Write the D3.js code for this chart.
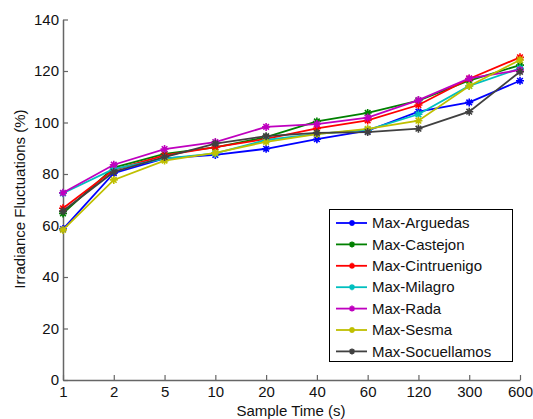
<!DOCTYPE html>
<html><head><meta charset="utf-8">
<script src="https://cdn.jsdelivr.net/npm/d3@7"></script>
<style>body{margin:0;background:#fff}svg{display:block}text{font-family:"Liberation Sans",Arial,sans-serif}</style>
</head><body>
<script>
const categories = ["1","2","5","10","20","40","60","120","300","600"];
const yTicks = [0,20,40,60,80,100,120,140];
const seriesNames = ["Max-Arguedas","Max-Castejon","Max-Cintruenigo","Max-Milagro","Max-Rada","Max-Sesma","Max-Socuellamos"];
const seriesColors = ["#0000ff","#008000","#ff0000","#00bfbf","#bf00bf","#bfbf00","#404040"];
const arguedas     = [58.6, 80.3, 86.1, 87.4, 89.8, 93.5, 96.8, 104.2, 107.8, 116.2];
const castejon     = [64.7, 82.5, 87.8, 90.3, 94.3, 100.4, 103.7, 108.5, 116.3, 122.3];
const cintruenigo  = [66.7, 81.6, 87.2, 90.4, 93.6, 97.7, 100.8, 106.8, 117.0, 125.3];
const milagro      = [72.5, 82.0, 86.0, 88.0, 93.2, 95.6, 97.1, 103.2, 114.2, 121.0];
const rada         = [72.7, 83.6, 89.7, 92.4, 98.3, 99.4, 101.9, 108.7, 117.1, 120.4];
const sesma        = [58.3, 77.7, 85.2, 88.2, 92.5, 95.5, 97.5, 100.7, 114.2, 124.3];
const socuellamos  = [65.6, 80.8, 86.6, 91.8, 94.7, 96.0, 96.3, 97.6, 104.2, 119.7];
const seriesValues = [arguedas, castejon, cintruenigo, milagro, rada, sesma, socuellamos];

const W = 533, H = 419;
const svg = d3.select("body").append("svg").attr("width", W).attr("height", H);
const x = d3.scalePoint().domain(categories).range([63, 520]);
const y = d3.scaleLinear().domain([0, 140]).range([380, 19.5]);

const axisColor = "#666";
const gx = svg.append("g").attr("transform", "translate(0,380)")
  .call(d3.axisBottom(x).tickSizeInner(-5).tickSizeOuter(0).tickPadding(6));
const gy = svg.append("g").attr("transform", "translate(63,0)")
  .call(d3.axisLeft(y).tickValues(yTicks).tickSizeInner(-5).tickSizeOuter(0).tickPadding(4));
[gx, gy].forEach(g => {
  g.select(".domain").attr("stroke", axisColor).attr("stroke-width", 1.5);
  g.selectAll(".tick line").attr("stroke", axisColor).attr("stroke-width", 1.2);
  g.selectAll(".tick text").attr("fill", "#111").attr("font-size", 15).attr("font-family", '"Liberation Sans",Arial,sans-serif');
});

svg.append("text").attr("x", 291).attr("y", 416).attr("text-anchor", "middle")
  .attr("font-size", 15).attr("fill", "#111").text("Sample Time (s)");
svg.append("text").attr("transform", "translate(25,199) rotate(-90)").attr("text-anchor", "middle")
  .attr("font-size", 15).attr("fill", "#111").text("Irradiance Fluctuations (%)");

function star(g, cx, cy, color, r) {
  const d = `M${cx-r},${cy}L${cx+r},${cy}M${cx},${cy-r}L${cx},${cy+r}` +
            `M${cx-r*0.7},${cy-r*0.7}L${cx+r*0.7},${cy+r*0.7}M${cx-r*0.7},${cy+r*0.7}L${cx+r*0.7},${cy-r*0.7}`;
  g.append("path").attr("d", d).attr("stroke", color).attr("stroke-width", 1.6).attr("fill", "none");
}

const line = d3.line().x((d, i) => x(categories[i])).y(d => y(d));
seriesValues.forEach((vals, si) => {
  const g = svg.append("g");
  g.append("path").datum(vals).attr("d", line).attr("fill", "none")
    .attr("stroke", seriesColors[si]).attr("stroke-width", 1.8);
  vals.forEach((v, i) => star(g, x(categories[i]), y(v), seriesColors[si], 4));
});

const lg = svg.append("g");
lg.append("rect").attr("x", 329.5).attr("y", 209.5).attr("width", 183).attr("height", 152)
  .attr("fill", "#fff").attr("stroke", "#000").attr("stroke-width", 1);
seriesNames.forEach((n, i) => {
  const yy = 223 + i * 21.4;
  lg.append("line").attr("x1", 336).attr("x2", 367).attr("y1", yy).attr("y2", yy)
    .attr("stroke", seriesColors[i]).attr("stroke-width", 1.8);
  star(lg, 352, yy, seriesColors[i], 3);
  lg.append("text").attr("x", 372).attr("y", yy).attr("dy", "0.35em")
    .attr("font-size", 15).attr("fill", "#111").text(n);
});
</script>
</body></html>
